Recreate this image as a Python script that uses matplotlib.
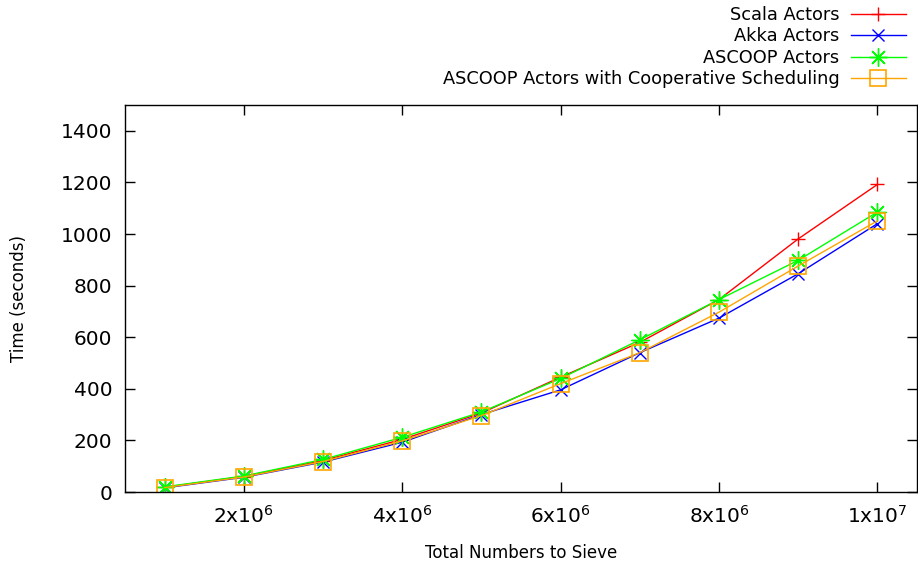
import matplotlib
matplotlib.use('Agg')
import matplotlib.pyplot as plt

# total numbers to sieve
n = [1e6, 2e6, 3e6, 4e6, 5e6, 6e6, 7e6, 8e6, 9e6, 1e7]

scala = [18, 60, 122, 204, 306, 445, 580, 746, 981, 1192]
akka = [16, 57, 116, 193, 300, 396, 540, 674, 846, 1040]
ascoop = [20, 62, 126, 212, 310, 440, 590, 746, 898, 1085]
ascoop_coop = [17, 58, 118, 198, 296, 420, 540, 697, 876, 1051]

xticks = [2e6, 4e6, 6e6, 8e6, 1e7]
xticklabels = [r'$\mathregular{2x10^{6}}$', r'$\mathregular{4x10^{6}}$',
               r'$\mathregular{6x10^{6}}$', r'$\mathregular{8x10^{6}}$',
               r'$\mathregular{1x10^{7}}$']

fig = plt.figure(figsize=(9.18, 5.64), dpi=100)
ax = fig.add_axes([125/918, 72/564, 792/918, 387/564])

lw = 1.0
ax.plot(n, scala, color='red', marker='+', ms=10, mew=1.0, lw=lw, label='Scala Actors')
ax.plot(n, akka, color='blue', marker='x', ms=9, mew=1.0, lw=lw, label='Akka Actors')
ax.plot(n, ascoop, color='#00ff00', marker=(8, 2, 0), ms=13, mew=1.0, lw=lw, label='ASCOOP Actors')
ax.plot(n, ascoop_coop, color='orange', marker='s', ms=12, mew=1.2, mfc='none', lw=lw,
        label='ASCOOP Actors with Cooperative Scheduling')

ax.set_xlim(0.5e6, 10.5e6)
ax.set_ylim(0, 1500)
ax.set_xticks(xticks)
ax.set_xticklabels(xticklabels)
ax.set_yticks(range(0, 1401, 200))
ax.tick_params(direction='in', length=7, width=1, labelsize=14.5,
               top=True, right=True, pad=9)
for s in ax.spines.values():
    s.set_linewidth(1.0)

ax.set_xlabel('Total Numbers to Sieve', fontsize=12, labelpad=13)
ax.set_ylabel('Time (seconds)', fontsize=12, labelpad=24)

leg = fig.legend(loc='upper right', bbox_to_anchor=(906/918, 1 - 6/564),
                 frameon=False, markerfirst=False, fontsize=12.8, handlelength=3.1,
                 handletextpad=0.65, labelspacing=0.19, borderpad=0, borderaxespad=0)

fig.savefig('out.png', dpi=100)
